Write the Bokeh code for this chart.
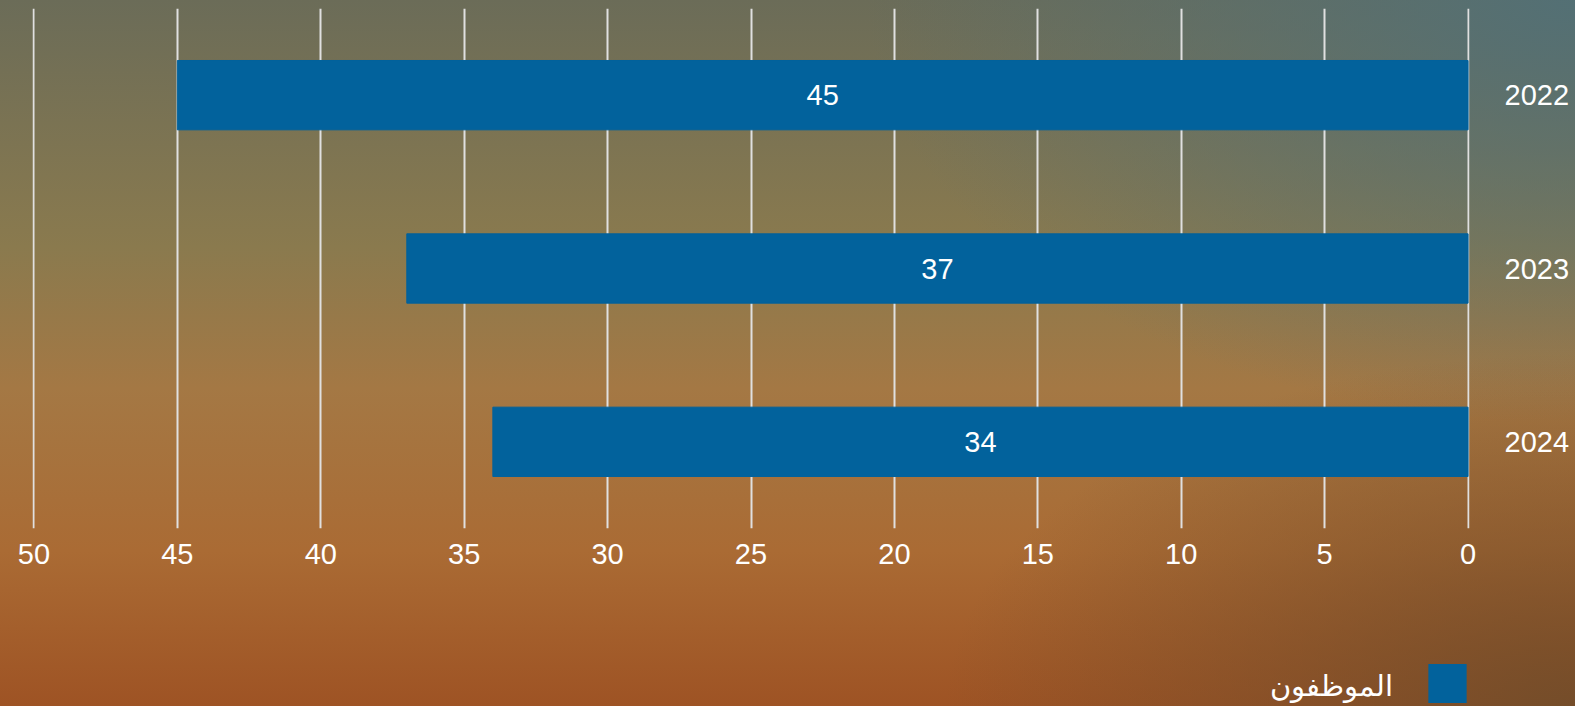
from bokeh.plotting import figure
from bokeh.models import Range1d, FactorRange, SingleIntervalTicker, Label, ColumnDataSource
from bokeh.core.properties import value
from bokeh.embed import file_html
from bokeh.resources import INLINE

years = ["2022", "2023", "2024"]
employees = [45, 37, 34]
series_name = "الموظفون"
x_ticks_interval = 5

BAR = "#02629c"
FONT = "Liberation Sans"
BG = ("radial-gradient(ellipse 45% 60% at 100% 0%, rgba(82,112,118,0.95) 0%, rgba(82,112,118,0) 100%),"
      "radial-gradient(ellipse 40% 50% at 100% 100%, rgba(112,76,42,0.9) 0%, rgba(112,76,42,0) 100%),"
      "linear-gradient(to bottom, #6b6c58 0%, #8a7a4e 35%, #a47844 55%, #aa6b34 78%, #9e5324 100%)")

src = ColumnDataSource(dict(year=years, val=employees, mid=[v / 2 for v in employees],
                            lab=[str(v) for v in employees]))

p = figure(width=1575, height=706, output_backend="svg", toolbar_location=None,
           x_range=Range1d(50.05, -0.05), y_range=FactorRange(factors=years[::-1]),
           y_axis_location="right",
           min_border_left=32, min_border_right=106, min_border_top=8, min_border_bottom=178,
           styles={"position": "fixed", "top": "0px", "left": "0px", "background": BG})
p.border_fill_alpha = 0
p.background_fill_alpha = 0
p.outline_line_color = None

bars = p.hbar(y="year", left=0, right="val", height=0.4, color=BAR, source=src)
p.text(x="mid", y="year", text="lab", source=src, text_color="white",
       text_font=value(FONT), text_font_size="29px", text_align="center", text_baseline="middle")

p.xaxis.ticker = SingleIntervalTicker(interval=x_ticks_interval)
p.xgrid.ticker = SingleIntervalTicker(interval=x_ticks_interval)
for ax in (p.xaxis[0], p.yaxis[0]):
    ax.axis_line_color = None
    ax.major_tick_line_color = None
    ax.minor_tick_line_color = None
    ax.major_tick_out = 0
    ax.major_tick_in = 0
    ax.minor_tick_out = 0
    ax.minor_tick_in = 0
    ax.major_label_text_color = "white"
    ax.major_label_text_font = FONT
    ax.major_label_text_font_size = "29px"
p.xaxis.major_label_standoff = 15
p.yaxis.major_label_standoff = 35
p.xgrid.grid_line_color = "#e0e0e0"
p.xgrid.grid_line_width = 2
p.ygrid.grid_line_color = None

# RTL legend below the chart: swatch on the right, series name on its left
p.add_layout(Label(x=1447, y=683, x_units="canvas", y_units="canvas", text=" ",
                   text_font_size="1px", text_align="center", text_baseline="middle",
                   background_fill_color=BAR, background_fill_alpha=1,
                   border_line_color=None, padding=19), "below")
p.add_layout(Label(x=1392, y=685, x_units="canvas", y_units="canvas", text=series_name,
                   text_color="white", text_font=FONT, text_font_size="29px",
                   text_align="right", text_baseline="middle"), "below")

open("out.html", "w").write(file_html(p, INLINE))
